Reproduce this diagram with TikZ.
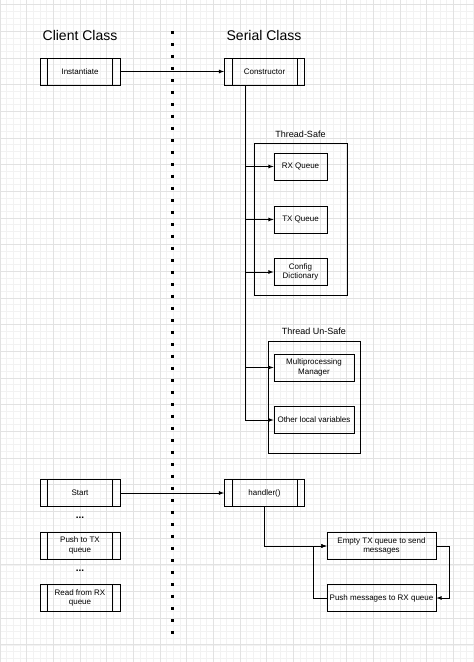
\documentclass[tikz,border=0pt]{standalone}
\usepackage{fontspec}
\setmainfont{Liberation Sans}
\usepackage{xcolor}
\usetikzlibrary{positioning}
\definecolor{gridminor}{HTML}{F2F2F2}
\definecolor{gridmajor}{HTML}{E2E2E2}
\tikzset{
	% process box (client / serial)
	procbox/.style={
		draw,
		minimum width=80pt,
		minimum height=27pt,
		inner sep=1pt,
		align=center,
		font=\fontsize{8}{9.5}\selectfont,
		path picture={
			\draw ([xshift=7.5pt]path picture bounding box.north west)--([xshift=7.5pt]path picture bounding box.south west);
			\draw ([xshift=-7.5pt]path picture bounding box.north east)--([xshift=-7.5pt]path picture bounding box.south east);
		}
	}, %
	% plain member box
	membox/.style={
		draw,
		minimum height=27pt,
		inner sep=1pt,
		align=center,
		font=\fontsize{8}{9.5}\selectfont
	}, %
	% titles
	classtitle/.style={
		font=\fontsize{14}{16}\selectfont
	}, %
	grouptitle/.style={
		font=\fontsize{9}{11}\selectfont
	}
}

\begin{document}
\begin{tikzpicture}[x=1pt, y=-1pt, line width=0.8pt]
			% fundo
			\useasboundingbox (0,0) rectangle (474,662);
			\fill[white] (0,0) rectangle (474,662);
			\foreach \gx in {0,6.667,...,474} \draw[gridminor, line width=0.4pt] (\gx,0)--(\gx,662);
			\foreach \gy in {-2,4.667,...,662} \draw[gridminor, line width=0.4pt] (0,\gy)--(474,\gy);
			\foreach \gx in {0,26.667,...,474} \draw[gridmajor, line width=0.5pt] (\gx,0)--(\gx,662);
			\foreach \gy in {4.667,31.333,...,662} \draw[gridmajor, line width=0.5pt] (0,\gy)--(474,\gy);
			
			% titulos
			\node[classtitle] (client) at (80,35) {Client Class};
			\node[classtitle] (serial) at (264,35) {Serial Class};
			
			% divisao
			\draw[line width=3pt, dash pattern=on 3pt off 9pt] (172,31)--(172,636);
			
			% construtor
			\node[procbox] (inst) at (80,71.5) {Instantiate};
			\node[procbox] (cons) at (264.5,71.5) {Constructor};
			\draw[-latex] (inst)--(cons);
			
			% Thread-Safe
			\draw (254,143) rectangle (347,295);
			\node[grouptitle] (safe) at (300.5,134) {Thread-Safe};
			\node[membox, minimum width=53pt] (rx) at (300.5,166.5) {RX Queue};
			\node[membox, minimum width=53pt] (tx) at (300.5,219.5) {TX Queue};
			\node[membox, minimum width=53pt] (cfg) at (300.5,272) {Config\\Dictionary};
			
			% Thread Un-Safe
			\draw (268,341) rectangle (360,453);
			\node[grouptitle] (unsafe) at (314,331) {Thread Un-Safe};
			\node[membox, minimum width=80pt] (mgr) at (314,367.5) {Multiprocessing\\Manager};
			\node[membox, minimum width=80pt] (loc) at (314,420) {Other local variables};
			
			% tronco
			\coordinate (trunk) at (245,85);
			\draw[-latex] (trunk) |- (rx);
			\draw[-latex] (trunk) |- (tx);
			\draw[-latex] (trunk) |- (cfg);
			\draw[-latex] (trunk) |- (mgr);
			\draw[-latex] (trunk) |- (loc);
			
			% cliente
			\node[procbox] (start) at (80,493) {Start};
			\node (dots1) at (80,518) {\textbf{...}};
			\node[procbox] (push) at (80,545.5) {Push to TX\\queue};
			\node (dots2) at (80,571) {\textbf{...}};
			\node[procbox] (read) at (80,598) {Read from RX\\queue};
			
			% handler
			\node[procbox] (hand) at (264.5,493) {handler()};
			\draw[-latex] (start)--(hand);
			\node[membox, minimum width=109pt] (empty) at (381.5,546) {Empty TX queue to send\\messages};
			\node[membox, minimum width=109pt] (pushrx) at (381.5,598) {Push messages to RX queue};
			\draw[-latex] (hand.south) |- (empty);
			\draw[-latex] (empty.east) -- ++(13,0) |- (pushrx.east);
			\draw[-latex] (pushrx.west) -- ++(-13,0) |- (empty.west);
		\end{tikzpicture}
\end{document}
